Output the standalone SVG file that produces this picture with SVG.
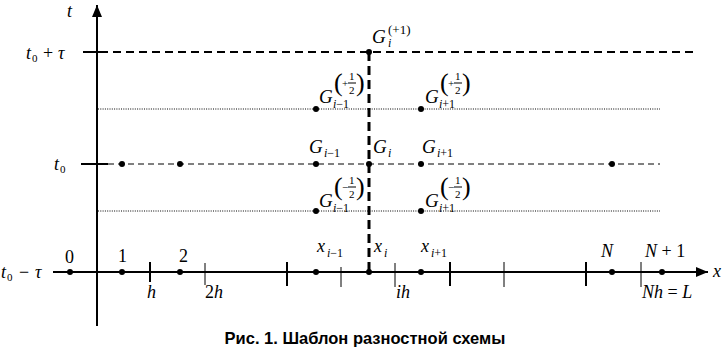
<svg xmlns="http://www.w3.org/2000/svg" width="725" height="349" viewBox="0 0 725 349">
<style>
.m{font-family:"Liberation Serif",serif;font-style:italic;font-size:18px;fill:#000}
.r{font-family:"Liberation Serif",serif;font-style:normal;font-size:18px;fill:#000}
.g{font-family:"Liberation Serif",serif;font-style:italic;font-size:19px;fill:#000}
.s{font-family:"Liberation Serif",serif;font-style:italic;font-size:12px;fill:#000}
.sr{font-family:"Liberation Serif",serif;font-style:normal;font-size:11px;fill:#000}
.su{font-family:"Liberation Serif",serif;font-style:normal;font-size:13px;fill:#000}
.p{font-family:"Liberation Serif",serif;font-style:normal;font-size:26px;fill:#000}
.cap{font-family:"Liberation Sans",Arial,sans-serif;font-weight:bold;font-size:16.5px;fill:#000}
.ax{stroke:#000;stroke-width:2;fill:none}
.tk{stroke:#000;stroke-width:2}
.tn{stroke:#000;stroke-width:1}
.dash{stroke:#000;stroke-width:1;stroke-dasharray:6 4;fill:none}
.dash2{stroke:#000;stroke-width:2;stroke-dasharray:8 5;fill:none}
.dot{stroke:#000;stroke-width:1;stroke-dasharray:1 1.3;fill:none}
.vd{stroke:#000;stroke-width:3;stroke-dasharray:9 5;fill:none}
.pt{fill:#000}
.fb{stroke:#000;stroke-width:1}
</style>
<defs>
<marker id="ah" viewBox="0 0 12 10" refX="12" refY="5" markerWidth="12" markerHeight="10" markerUnits="userSpaceOnUse" orient="auto">
<path d="M0,0 L12,5 L0,10 Z" fill="#000"/>
</marker>
</defs>

<g id="connectors">
<line class="ax" x1="97" y1="326" x2="97" y2="5" marker-end="url(#ah)"/>
<line class="ax" x1="53" y1="272" x2="708" y2="272" marker-end="url(#ah)"/>
<line class="tk" x1="83" y1="52" x2="100" y2="52"/>
<line class="tk" x1="81" y1="164" x2="108" y2="164"/>
<line class="dash2" x1="100" y1="52" x2="697" y2="52"/>
<line class="dot" x1="98" y1="109" x2="660" y2="109"/>
<line class="dash" x1="108" y1="164" x2="660" y2="164"/>
<line class="dot" x1="98" y1="211" x2="660" y2="211"/>
<line class="vd" x1="369" y1="52" x2="369" y2="272"/>
<line class="tk" x1="150" y1="262" x2="150" y2="282"/>
<line class="tn" x1="205" y1="263" x2="205" y2="285"/>
<line class="tk" x1="287" y1="262" x2="287" y2="286"/>
<line class="tn" x1="341" y1="267" x2="341" y2="287"/>
<line class="tn" x1="395" y1="263" x2="395" y2="287"/>
<line class="tk" x1="450" y1="262" x2="450" y2="286"/>
<line class="tn" x1="504" y1="262" x2="504" y2="287"/>
<line class="tk" x1="586" y1="262" x2="586" y2="286"/>
<line class="tn" x1="641" y1="262" x2="641" y2="287"/>
</g>

<g id="axis-labels">
<text class="m" x="67" y="17">t</text>
<text class="m" x="26" y="59">t</text><text class="sr" x="32" y="62">0</text><text class="r" x="43" y="59">+</text><text class="m" x="58" y="59">τ</text>
<text class="m" x="54" y="170">t</text><text class="sr" x="60" y="173">0</text>
<text class="m" x="1" y="278">t</text><text class="sr" x="7" y="281">0</text><text class="r" x="19" y="278">−</text><text class="m" x="35" y="278">τ</text>
<text class="m" x="713" y="277">x</text>
</g>

<g id="x-points">
<g id="p0"><circle class="pt" cx="70" cy="272" r="3"/><text class="r" x="65" y="263">0</text></g>
<g id="p1"><circle class="pt" cx="122" cy="272" r="3"/><text class="r" x="118" y="262">1</text></g>
<g id="p2"><circle class="pt" cx="180" cy="272" r="3"/><text class="r" x="179" y="262">2</text></g>
<g id="pim1"><circle class="pt" cx="316" cy="272" r="3"/><text class="m" x="317" y="252">x</text><text class="s" x="327" y="257">i<tspan font-style="normal">−1</tspan></text></g>
<g id="pi"><circle class="pt" cx="369" cy="272" r="3"/><text class="m" x="374" y="252">x</text><text class="s" x="384" y="257">i</text></g>
<g id="pip1"><circle class="pt" cx="421" cy="272" r="3"/><text class="m" x="421" y="252">x</text><text class="s" x="431" y="257">i<tspan font-style="normal">+1</tspan></text></g>
<g id="pN"><circle class="pt" cx="612" cy="272" r="3"/><text class="m" x="601" y="257">N</text></g>
<g id="pN1"><circle class="pt" cx="662" cy="272" r="3"/><text class="m" x="645" y="257">N<tspan font-style="normal"> + 1</tspan></text></g>
<text class="m" x="147" y="298">h</text>
<text class="r" x="205" y="298">2<tspan font-style="italic">h</tspan></text>
<text class="m" x="396" y="298">ih</text>
<text class="m" x="642" y="298">Nh<tspan font-style="normal"> = </tspan>L</text>
</g>

<g id="G-top">
<circle class="pt" cx="369" cy="52" r="3"/>
<text class="g" x="372" y="43">G</text><text class="s" x="388" y="47">i</text>
<text class="su" x="388" y="34">(+1)</text>
</g>

<g id="G-im1-half">
<circle class="pt" cx="316" cy="109" r="3"/>
<text class="g" x="319" y="103">G</text><text class="s" x="333" y="108">i<tspan font-style="normal">−1</tspan></text>
<text class="p" x="334" y="91">(</text><text class="sr" x="342" y="87">+</text>
<text class="sr" x="349" y="80">1</text><line class="fb" x1="348" y1="83" x2="356" y2="83"/><text class="sr" x="349" y="94">2</text>
<text class="p" x="356" y="91">)</text>
</g>

<g id="G-ip1-half">
<circle class="pt" cx="421" cy="109" r="3"/>
<text class="g" x="425" y="103">G</text><text class="s" x="439" y="108">i<tspan font-style="normal">+1</tspan></text>
<text class="p" x="440" y="91">(</text><text class="sr" x="448" y="87">+</text>
<text class="sr" x="455" y="80">1</text><line class="fb" x1="454" y1="83" x2="462" y2="83"/><text class="sr" x="455" y="94">2</text>
<text class="p" x="462" y="91">)</text>
</g>

<g id="G-im1">
<circle class="pt" cx="316" cy="164" r="3"/>
<text class="g" x="309" y="153">G</text><text class="s" x="324" y="157">i<tspan font-style="normal">−1</tspan></text>
</g>
<g id="G-i">
<circle class="pt" cx="369" cy="164" r="3"/>
<text class="g" x="373" y="153">G</text><text class="s" x="388" y="157">i</text>
</g>
<g id="G-ip1">
<circle class="pt" cx="421" cy="164" r="3"/>
<text class="g" x="422" y="153">G</text><text class="s" x="437" y="157">i<tspan font-style="normal">+1</tspan></text>
</g>
<g id="G-n1"><circle class="pt" cx="122" cy="164" r="3"/></g>
<g id="G-n2"><circle class="pt" cx="180" cy="164" r="3"/></g>
<g id="G-nN"><circle class="pt" cx="612" cy="164" r="3"/></g>

<g id="G-im1-mhalf">
<circle class="pt" cx="316" cy="211" r="3"/>
<text class="g" x="319" y="207">G</text><text class="s" x="333" y="212">i<tspan font-style="normal">−1</tspan></text>
<text class="p" x="334" y="195">(</text><text class="sr" x="342" y="191">−</text>
<text class="sr" x="349" y="184">1</text><line class="fb" x1="348" y1="187" x2="356" y2="187"/><text class="sr" x="349" y="198">2</text>
<text class="p" x="356" y="195">)</text>
</g>

<g id="G-ip1-mhalf">
<circle class="pt" cx="421" cy="211" r="3"/>
<text class="g" x="425" y="207">G</text><text class="s" x="439" y="212">i<tspan font-style="normal">+1</tspan></text>
<text class="p" x="440" y="195">(</text><text class="sr" x="448" y="191">−</text>
<text class="sr" x="455" y="184">1</text><line class="fb" x1="454" y1="187" x2="462" y2="187"/><text class="sr" x="455" y="198">2</text>
<text class="p" x="462" y="195">)</text>
</g>

<text class="cap" x="365" y="344" text-anchor="middle">Рис. 1. Шаблон разностной схемы</text>
</svg>
